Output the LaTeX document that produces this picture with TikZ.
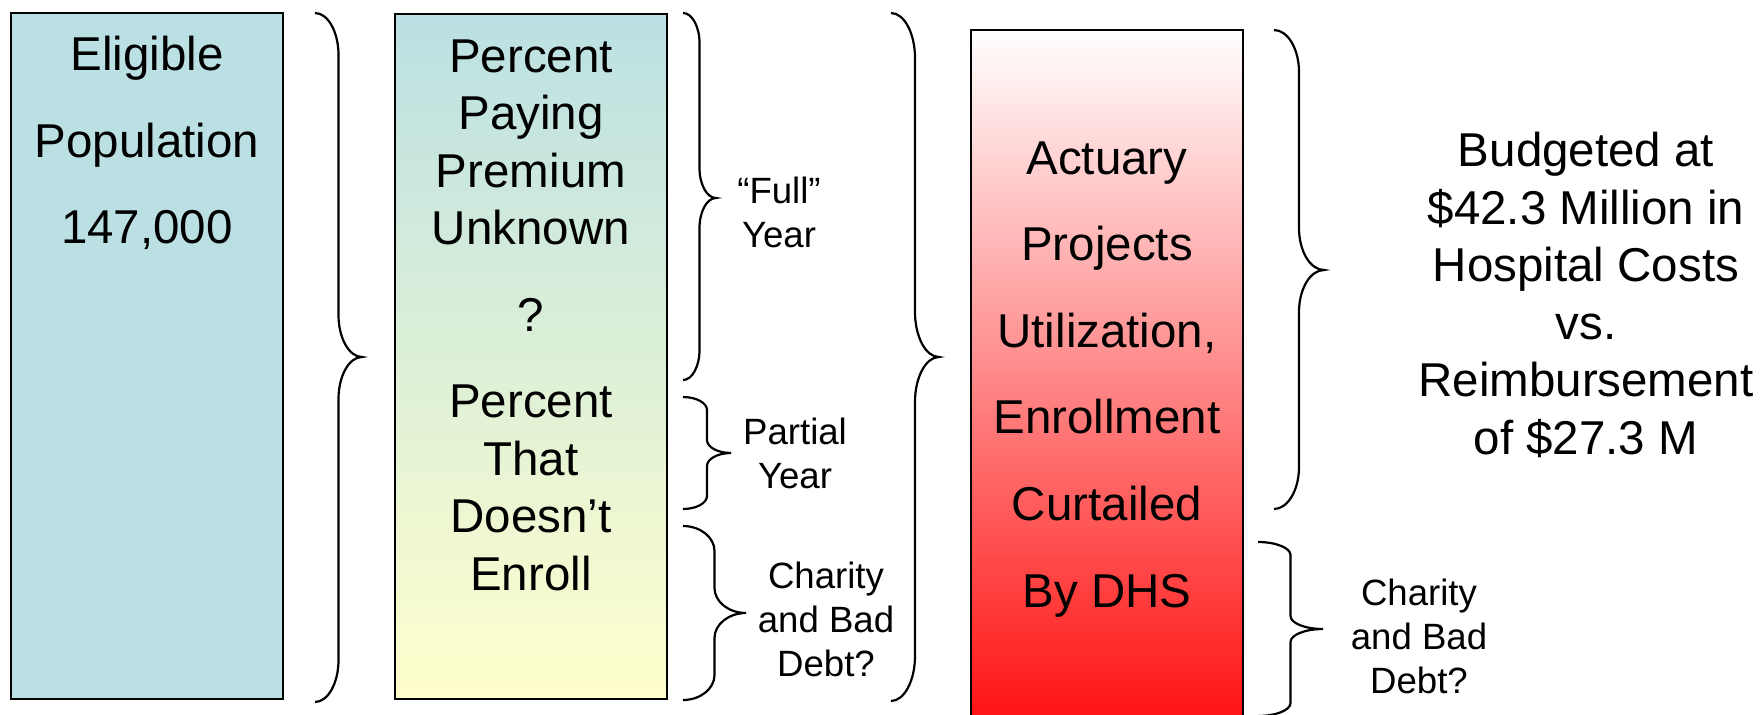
\documentclass[tikz,border=0pt]{standalone}
\usepackage{fontspec}
\setmainfont{Liberation Sans}
\definecolor{popblue}{RGB}{187,224,227}
\definecolor{paleyellow}{RGB}{255,255,204}
\definecolor{deepred}{RGB}{255,20,20}
\tikzset{
  col/.style={draw=black, line width=1.2pt},
  bracket/.style={draw=black, line width=1.1pt},
  bigtext/.style={align=center, anchor=base, inner sep=0pt,
    font=\fontsize{23.75}{28.75}\selectfont},
  smalltext/.style={align=center, anchor=base, inner sep=0pt,
    font=\fontsize{18.3}{22}\selectfont},
}
\begin{document}
\begin{tikzpicture}[x=0.5pt,y=-0.5pt]
  \useasboundingbox (0,0) rectangle (1763,714);
  % the three columns
  \draw[col, fill=popblue] (11,13) rectangle (283,699);
  \shade[col, top color=popblue, bottom color=paleyellow] (395,14) rectangle (667,699);
  \shade[top color=white, bottom color=deepred] (971,30) rectangle (1243,716);
  \draw[col] (971,716) -- (971,30) -- (1243,30) -- (1243,716);
  % column texts (placed by the baseline of their last line)
  \node[bigtext, font=\fontsize{23.75}{43.25}\selectfont] (elig) at (147,243.6)
    {Eligible\\Population\\147,000};
  \node[bigtext] (premium) at (531,590)
    {Percent\\Paying\\Premium\\Unknown\\[14.5pt]?\\[14.3pt]Percent\\That\\Doesn’t\\Enroll};
  \node[bigtext, font=\fontsize{23.75}{43.3}\selectfont] (actuary) at (1107,607)
    {Actuary\\Projects\\Utilization,\\Enrollment\\Curtailed\\By DHS};
  \node[bigtext] (budget) at (1586,454)
    {Budgeted at\\\$42.3 Million in\\Hospital Costs\\vs.\\Reimbursement\\of \$27.3 M};
  % brace labels
  \node[smalltext] (fullyr) at (779,247) {“Full”\\Year};
  \node[smalltext] (partyr) at (795,488) {Partial\\Year};
  \node[smalltext] (charity) at (826,676) {Charity\\and Bad\\Debt?};
  \node[smalltext] (charityr) at (1419,693) {Charity\\and Bad\\Debt?};
  % braces: left end x / tip x / top / tip y / bottom / curl
  \foreach \xa/\xb/\ya/\yc/\yb/\r in {315/362/13/357/702/42, 683/716/13/198/380/30,
      683/731/397/453/509/13, 683/746/526/613/700/25, 891/939/13/357/701/45,
      1274/1324/30/270/509/42, 1258/1323/542/629/716/13}{
    \pgfmathsetmacro\xm{(\xa+\xb)/2}
    \pgfmathsetmacro\xp{\xa+0.55*(\xm-\xa)}
    \pgfmathsetmacro\xq{\xb-0.55*(\xb-\xm)}
    \pgfmathsetmacro\yA{\ya+0.45*\r}
    \pgfmathsetmacro\yB{\ya+\r}
    \pgfmathsetmacro\yC{\yc-\r}
    \pgfmathsetmacro\yD{\yc-0.45*\r}
    \pgfmathsetmacro\yE{\yc+0.45*\r}
    \pgfmathsetmacro\yF{\yc+\r}
    \pgfmathsetmacro\yG{\yb-\r}
    \pgfmathsetmacro\yH{\yb-0.45*\r}
    \draw[bracket] (\xa,\ya) .. controls (\xp,\ya) and (\xm,\yA) .. (\xm,\yB)
      -- (\xm,\yC) .. controls (\xm,\yD) and (\xq,\yc) .. (\xb,\yc)
      .. controls (\xq,\yc) and (\xm,\yE) .. (\xm,\yF)
      -- (\xm,\yG) .. controls (\xm,\yH) and (\xp,\yb) .. (\xa,\yb);
  }
\end{tikzpicture}
\end{document}
